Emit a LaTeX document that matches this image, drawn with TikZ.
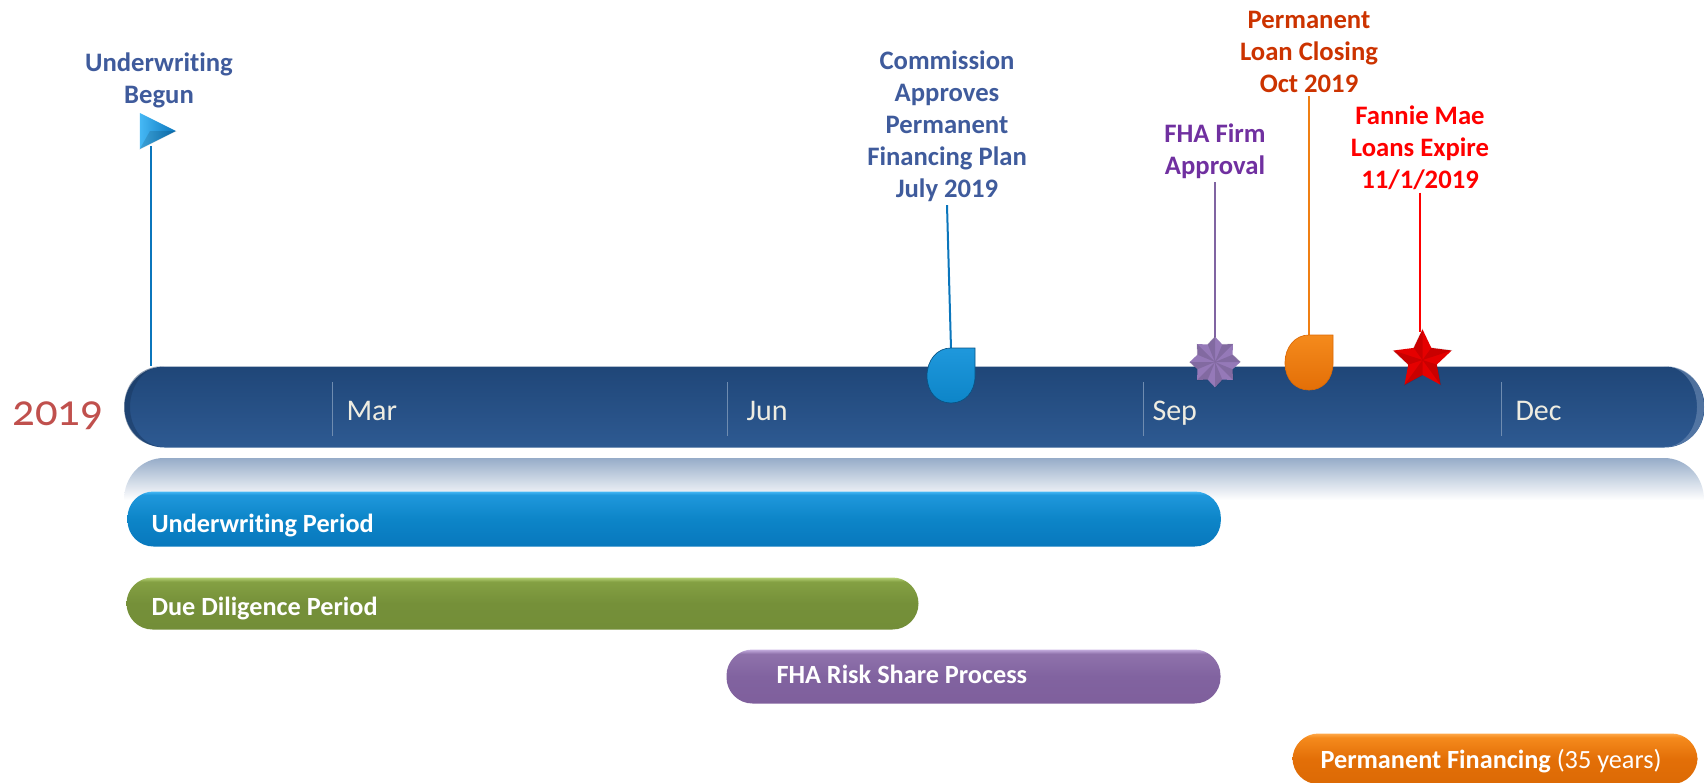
\documentclass[tikz,border=0pt]{standalone}
\usepackage{fontspec}
\setmainfont{Carlito}[Ligatures=CommonOff]
\usetikzlibrary{shapes.geometric}

\definecolor{navyTop}{HTML}{1F4678}
\definecolor{navyBot}{HTML}{2E5A92}
\definecolor{skyA}{HTML}{0878BD}
\definecolor{skyB}{HTML}{0D85C8}
\definecolor{skyC}{HTML}{1F98DC}
\definecolor{skyD}{HTML}{45B8F5}
\definecolor{oliveA}{HTML}{738E38}
\definecolor{oliveB}{HTML}{759039}
\definecolor{oliveC}{HTML}{84A043}
\definecolor{oliveD}{HTML}{B5D175}
\definecolor{plumA}{HTML}{7F5F9C}
\definecolor{plumB}{HTML}{8163A0}
\definecolor{plumC}{HTML}{8F72AB}
\definecolor{plumD}{HTML}{C5AEDF}
\definecolor{ambA}{HTML}{DC6A05}
\definecolor{ambB}{HTML}{E36F07}
\definecolor{ambC}{HTML}{F58A1C}
\definecolor{ambD}{HTML}{FFA848}
\definecolor{titleBlue}{HTML}{3F5B9C}
\definecolor{titlePurple}{HTML}{7030A0}
\definecolor{titleRust}{HTML}{CC3300}
\definecolor{yearRed}{HTML}{C0504D}
\definecolor{monthCream}{HTML}{EEECE1}
\definecolor{tickGrey}{HTML}{6F8CB0}
\definecolor{pinBlue}{HTML}{0B76BC}
\definecolor{pinPurple}{HTML}{8064A2}
\definecolor{pinLilac}{HTML}{9579B8}
\definecolor{pinOrange}{HTML}{F07F13}

\pgfdeclareverticalshading{navybar}{100bp}{color(0bp)=(navyBot); color(25bp)=(navyBot); color(75bp)=(navyTop); color(100bp)=(navyTop)}
\pgfdeclareverticalshading{skybar}{100bp}{color(0bp)=(skyA); color(25bp)=(skyA); color(50bp)=(skyB); color(72bp)=(skyC); color(75bp)=(skyD); color(100bp)=(skyD)}
\pgfdeclareverticalshading{olivebar}{100bp}{color(0bp)=(oliveA); color(25bp)=(oliveA); color(50bp)=(oliveB); color(71bp)=(oliveC); color(75bp)=(oliveD); color(100bp)=(oliveD)}
\pgfdeclareverticalshading{plumbar}{100bp}{color(0bp)=(plumA); color(25bp)=(plumA); color(50bp)=(plumB); color(71bp)=(plumC); color(75bp)=(plumD); color(100bp)=(plumD)}
\pgfdeclareverticalshading{ambbar}{100bp}{color(0bp)=(ambA); color(25bp)=(ambA); color(50bp)=(ambB); color(71bp)=(ambC); color(75bp)=(ambD); color(100bp)=(ambD)}

\tikzset{every picture/.style={line width=0.75pt}}
\tikzset{
	timebar/.style={anchor=north west,inner sep=0pt,shade,rounded corners=19.5pt},
	bartext/.style={anchor=base west,inner sep=0pt,text=white,font=\fontsize{19.7}{24}\selectfont\bfseries},
	monthtext/.style={anchor=base west,inner sep=0pt,text=monthCream,font=\fontsize{22.5}{26}\selectfont},
	milestone/.style={align=center,inner sep=2pt,font=\fontsize{20}{24}\selectfont\bfseries},
	stem/.style={line width=1.5pt},
	monthtick/.style={draw=tickGrey,line width=0.75pt},
	droppin/.style={line width=0.5pt},
	facet/.style={fill=black,fill opacity=0.12}
}

\begin{document}
\begin{tikzpicture}[x=0.75pt,y=0.75pt,yscale=-1,xscale=1]
	\useasboundingbox (0,0) rectangle (1705,782);

	%Reflection under main bar
	\shade [top color=navyBot!50!white,bottom color=white] (124,500) .. controls (124,476) and (142,458) .. (164,458) -- (1664,458) .. controls (1686,458) and (1704,476) .. (1704,500) -- cycle ;

	%Rounded Rect main bar
	\node (barMain) [timebar,shading=navybar,rounded corners=30pt,minimum width=1185pt,minimum height=60.75pt] at (124,366) {};
	%Bar end rims
	\fill [navyBot!70!white,fill opacity=0.6] (1664,366) .. controls (1690,366) and (1704,386) .. (1704,407) .. controls (1704,428) and (1690,447) .. (1664,447) .. controls (1684,447) and (1697,428) .. (1697,407) .. controls (1697,386) and (1684,366) .. (1664,366) -- cycle ;
	\fill [navyTop!80!black,fill opacity=0.5] (164,366) .. controls (138,366) and (124,386) .. (124,407) .. controls (124,428) and (138,447) .. (164,447) .. controls (144,447) and (130,428) .. (130,407) .. controls (130,386) and (144,366) .. (164,366) -- cycle ;
	%Rounded Rect period bars
	\node (barUnder) [timebar,shading=skybar,minimum width=820pt,minimum height=41.25pt] at (127,491) {};
	\node (barDue) [timebar,shading=olivebar,minimum width=594pt,minimum height=39pt] at (126,577) {};
	\node (barRisk) [timebar,shading=plumbar,minimum width=370.5pt,minimum height=40.5pt] at (726,649) {};
	\node (barPerm) [timebar,shading=ambbar,minimum width=303.75pt,minimum height=38pt] at (1292,733) {};

	\draw (151,532.5) node (txtUnder) [bartext] {Underwriting Period};
	\draw (151,615.5) node (txtDue) [bartext] {Due Diligence Period};
	\draw (776,683.5) node (txtRisk) [bartext] {FHA Risk Share Process};
	\draw (1320,768.5) node (txtPerm) [bartext] {Permanent Financing \normalfont(35 years)};

	%Month ticks
	\draw [monthtick] (332,382) -- (332,436) ;
	\draw [monthtick] (727,382) -- (727,436) ;
	\draw [monthtick] (1143,382) -- (1143,436) ;
	\draw [monthtick] (1501,382) -- (1501,436) ;
	\draw (346,420) node (txtMar) [monthtext] {Mar};
	\draw (746,420) node (txtJun) [monthtext] {Jun};
	\draw (1152,420) node (txtSep) [monthtext] {Sep};
	\draw (1515,420) node (txtDec) [monthtext] {Dec};
	\draw (12,425) node (txtYear) [anchor=base west,inner sep=0pt,text=yearRed,font=\fontsize{33.5}{38}\selectfont\addfontfeature{Numbers=OldStyle}] {2019};

	%Milestone titles
	\draw (159,80) node (lblBegun) [milestone,text=titleBlue] {Underwriting\\Begun};
	\draw (947,126.5) node (lblPlan) [milestone,text=titleBlue] {Commission\\Approves\\Permanent\\Financing Plan\\July 2019};
	\draw (1215,151.5) node (lblFirm) [milestone,text=titlePurple] {FHA Firm\\Approval};
	\draw (1309,52) node (lblClose) [milestone,text=titleRust] {Permanent\\Loan Closing\\Oct 2019};
	\draw (1420,147.5) node (lblExpire) [milestone,text=red] {Fannie Mae\\Loans Expire\\11/1/2019};

	%Stems
	\coordinate (dropPlan) at (951,349);
	\coordinate (dropClose) at (1309,336);
	\coordinate (flagFoot) at (151,146);
	\draw [stem,pinBlue] (flagFoot) -- (flagFoot |- barMain.north) ;
	\draw [stem,pinBlue] (lblPlan.south) -- (dropPlan) ;
	\draw [stem,pinPurple] (lblFirm.south) -- (1215,340) coordinate (starFirmTop) ;
	\draw [stem,pinOrange] (lblClose.south) -- (dropClose) ;
	\draw [stem,red] (lblExpire.south) -- (1420,332) coordinate (starExpireTop) ;

	%Flag
	\node (flagBegun) [isosceles triangle,isosceles triangle apex angle=53,minimum height=27pt,inner sep=0pt,anchor=apex,shade,left color=skyD,right color=pinBlue] at (177,131) {};
	\fill [facet] (flagBegun.apex) -- (flagBegun.right corner) -- (150,131) -- cycle ;

	%Drop pins
	\draw [droppin,draw=pinBlue!70!black,top color=skyC,bottom color=skyB,shift={(927,348)}] (48,0) -- (24,0) .. controls (10,0) and (0,12) .. (0,28) .. controls (0,44) and (10,55) .. (24,55) .. controls (38,55) and (48,44) .. (48,28) -- cycle ;
	\draw [droppin,draw=ambA,top color=ambC,bottom color=ambB,shift={(1285,335)}] (48,0) -- (24,0) .. controls (10,0) and (0,12) .. (0,28) .. controls (0,44) and (10,55) .. (24,55) .. controls (38,55) and (48,44) .. (48,28) -- cycle ;

	%Purple star
	\node (starFirm) [star,star points=8,star point ratio=1.33,minimum size=38pt,inner sep=0pt,fill=pinLilac] at (1215,362) {};
	\fill [facet] (starFirm.center) -- (starFirm.outer point 1) -- (starFirm.inner point 1) -- cycle
		(starFirm.center) -- (starFirm.outer point 2) -- (starFirm.inner point 2) -- cycle
		(starFirm.center) -- (starFirm.outer point 3) -- (starFirm.inner point 3) -- cycle
		(starFirm.center) -- (starFirm.outer point 4) -- (starFirm.inner point 4) -- cycle
		(starFirm.center) -- (starFirm.outer point 5) -- (starFirm.inner point 5) -- cycle
		(starFirm.center) -- (starFirm.outer point 6) -- (starFirm.inner point 6) -- cycle
		(starFirm.center) -- (starFirm.outer point 7) -- (starFirm.inner point 7) -- cycle
		(starFirm.center) -- (starFirm.outer point 8) -- (starFirm.inner point 8) -- cycle ;

	%Red star
	\node (starExpire) [star,star points=5,star point ratio=2.05,minimum size=46pt,inner sep=0pt,fill=red!90!black] at (1422.5,360) {};
	\fill [facet] (starExpire.center) -- (starExpire.outer point 1) -- (starExpire.inner point 1) -- cycle
		(starExpire.center) -- (starExpire.outer point 2) -- (starExpire.inner point 2) -- cycle
		(starExpire.center) -- (starExpire.outer point 3) -- (starExpire.inner point 3) -- cycle
		(starExpire.center) -- (starExpire.outer point 4) -- (starExpire.inner point 4) -- cycle
		(starExpire.center) -- (starExpire.outer point 5) -- (starExpire.inner point 5) -- cycle ;
\end{tikzpicture}
\end{document}
